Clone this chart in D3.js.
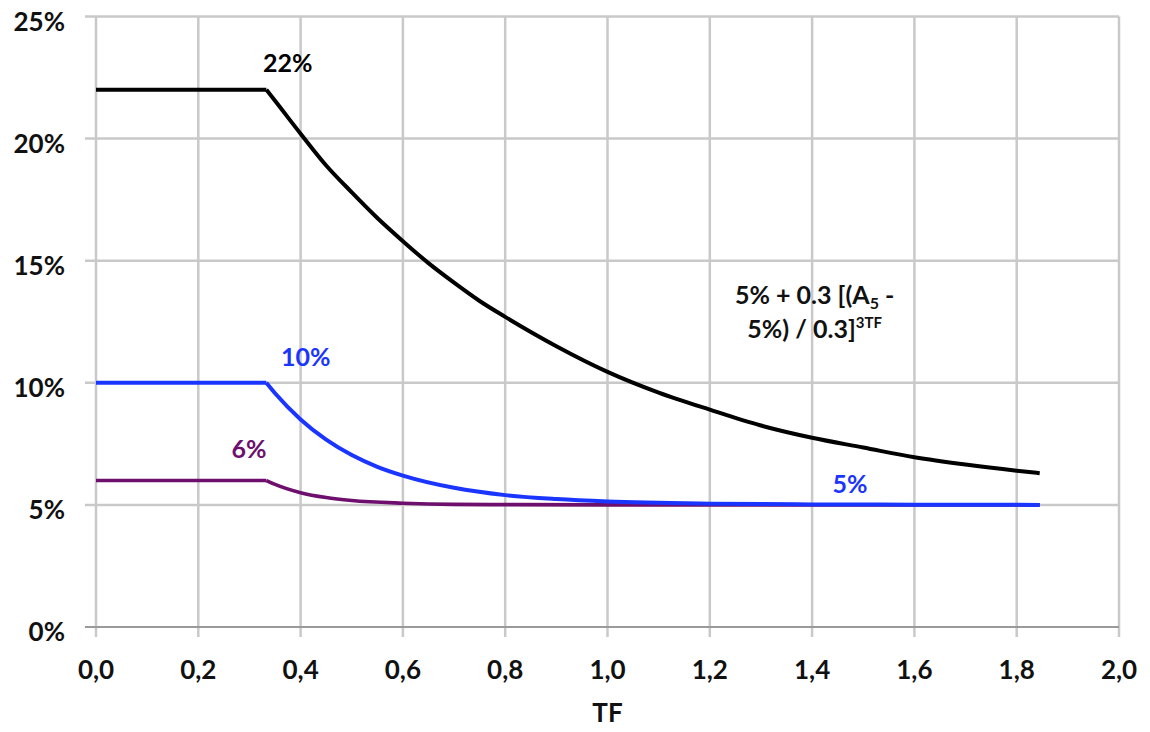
<!DOCTYPE html>
<html><head><meta charset="utf-8">
<script src="https://cdn.jsdelivr.net/npm/d3@7"></script>
<style>
html,body{margin:0;padding:0;background:#fff;}
text{font-family:Lato,"Open Sans",sans-serif;font-weight:bold;}
</style></head>
<body><svg id="c" width="1150" height="732"></svg>
<script>
const xTicks = [0,0.2,0.4,0.6,0.8,1.0,1.2,1.4,1.6,1.8,2.0];
const yTicks = [0,5,10,15,20,25];
const tfBlack = [0,0.333,0.35,0.4,0.45,0.5,0.55,0.6,0.65,0.7,0.75,0.8,0.9,1.0,1.1,1.2,1.3,1.4,1.5,1.6,1.7,1.8,1.845];
const black  = [22,22,21.55,20.2,18.9,17.8,16.75,15.8,14.9,14.1,13.35,12.7,11.5,10.45,9.6,8.9,8.25,7.75,7.35,6.95,6.65,6.4,6.3];
const tfBlue = [0,0.333,0.35,0.4,0.45,0.5,0.55,0.6,0.7,0.8,0.9,1.0,1.2,1.4,1.6,1.845];
const blue   = [10,10,9.57,8.5,7.67,7.04,6.56,6.2,5.7,5.4,5.24,5.14,5.05,5.02,5.01,5.0];
const tfPurple = [0,0.333,0.35,0.4,0.45,0.5,0.6,0.7,0.8,1.0,1.845];
const purple   = [6,6,5.84,5.5,5.3,5.18,5.07,5.02,5.01,5.0,5.0];
const labels = [
  {t:"22%", x:0.375, y:22.73, c:"#000"},
  {t:"10%", x:0.41,  y:10.7,  c:"#1a35ff"},
  {t:"6%",  x:0.299, y:6.92,  c:"#6e0f6e"},
  {t:"5%",  x:1.474, y:5.49,  c:"#1a35ff"}
];

const svg = d3.select("#c");
const x = d3.scaleLinear().domain([0,2]).range([96,1119]);
const y = d3.scaleLinear().domain([0,25]).range([627,16.5]);
const FS = 26;

svg.append("g").selectAll("line").data(yTicks.filter(d=>d>0)).join("line")
  .attr("x1",85).attr("x2",1119).attr("y1",d=>y(d)).attr("y2",d=>y(d))
  .attr("stroke","#c9c9c9").attr("stroke-width",2.5);
svg.append("g").selectAll("line").data(xTicks).join("line")
  .attr("x1",d=>x(d)).attr("x2",d=>x(d)).attr("y1",y(25)).attr("y2",637)
  .attr("stroke","#c9c9c9").attr("stroke-width",2.5);
svg.append("line").attr("x1",85).attr("x2",1119).attr("y1",y(0)).attr("y2",y(0))
  .attr("stroke","#9a9a9a").attr("stroke-width",2);

svg.append("g").selectAll("text").data(yTicks).join("text")
  .attr("x",65).attr("y",d=>y(d)+14).attr("text-anchor","end")
  .attr("font-size",FS).attr("fill","#111").text(d=>d+"%");
svg.append("g").selectAll("text").data(xTicks).join("text")
  .attr("x",d=>x(d)).attr("y",679).attr("text-anchor","middle")
  .attr("font-size",FS).attr("fill","#111").text(d=>d.toFixed(1).replace(".",","));
svg.append("text").attr("x",x(1.0)).attr("y",722).attr("text-anchor","middle")
  .attr("font-size",FS).attr("fill","#111").text("TF");

const line = d3.line().x(d=>x(d[0])).y(d=>y(d[1])).curve(d3.curveMonotoneX);
function series(tf, v, color, w){
  const pts = d3.zip(tf, v);
  svg.append("path").datum(pts.slice(0,2)).attr("d",line)
    .attr("fill","none").attr("stroke",color).attr("stroke-width",w).attr("stroke-linejoin","round");
  svg.append("path").datum(pts.slice(1)).attr("d",line)
    .attr("fill","none").attr("stroke",color).attr("stroke-width",w);
}
series(tfPurple, purple, "#6e0f6e", 3.6);
series(tfBlue, blue, "#1a35ff", 4);
series(tfBlack, black, "#000", 4);

svg.append("g").selectAll("text").data(labels).join("text")
  .attr("x",d=>x(d.x)).attr("y",d=>y(d.y)).attr("text-anchor","middle")
  .attr("font-size",25).attr("fill",d=>d.c).text(d=>d.t);

const fx = x(1.405);
const f1 = svg.append("text").attr("x",fx).attr("y",304).attr("text-anchor","middle")
  .attr("font-size",25).attr("fill","#111");
f1.append("tspan").text("5% + 0.3 [(A");
f1.append("tspan").attr("font-size",16).attr("dy",5).text("5");
f1.append("tspan").attr("dy",-5).text(" -");
const f2 = svg.append("text").attr("x",fx).attr("y",338).attr("text-anchor","middle")
  .attr("font-size",25).attr("fill","#111");
f2.append("tspan").text("5%) / 0.3]");
f2.append("tspan").attr("font-size",15).attr("dy",-10).text("3TF");
</script></body></html>
